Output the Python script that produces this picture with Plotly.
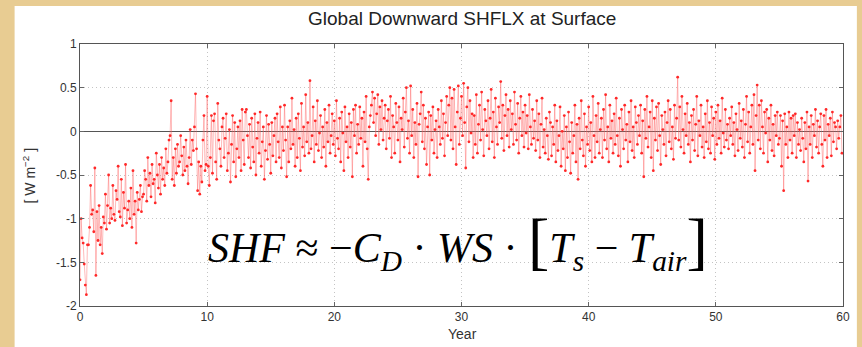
import plotly.graph_objects as go

TITLE = "Global Downward SHFLX at Surface"
X_TICKS = [0, 10, 20, 30, 40, 50, 60]
Y_TICKS = [1, 0.5, 0, -0.5, -1, -1.5, -2]
Y_TICK_LABELS = ["1", "0.5", "0", "-0.5", "-1", "-1.5", "-2"]

# monthly values, one row per model year
shflx_by_year = [
    [-1.70, -1.00, -1.22, -1.28, -1.52, -1.76, -1.87, -1.30, -1.30, -1.10, -0.62, -0.95],
    [-0.90, -1.15, -0.42, -1.65, -0.92, -1.25, -0.85, -1.30, -1.10, -1.40, -0.98, -1.05],
    [-0.72, -1.12, -0.85, -0.50, -1.05, -0.88, -1.00, -0.62, -0.95, -1.02, -0.68, -0.78],
    [-0.40, -0.92, -0.98, -0.55, -1.08, -0.70, -0.88, -0.38, -1.05, -0.90, -0.80, -1.00],
    [-0.65, -1.10, -0.45, -0.95, -0.80, -1.28, -0.70, -0.90, -0.78, -0.62, -0.92, -0.75],
    [-0.72, -0.45, -0.55, -0.80, -0.30, -0.62, -0.48, -0.75, -0.38, -0.60, -0.55, -0.82],
    [-0.25, -0.50, -0.65, -0.38, -0.72, -0.30, -0.55, -0.42, -0.62, -0.20, -0.48, -0.35],
    [-0.10, -0.05, 0.35, -0.55, -0.30, -0.62, -0.20, -0.48, -0.15, -0.40, -0.35, -0.05],
    [-0.28, -0.50, -0.18, -0.45, -0.10, -0.40, -0.60, -0.30, 0.02, -0.38, -0.10, -0.22],
    [0.05, 0.43, -0.20, -0.68, -0.35, -0.72, -0.40, -0.58, -0.10, 0.18, -0.45, -0.38],
    [0.40, -0.40, -0.62, -0.30, 0.18, -0.48, 0.12, 0.20, -0.35, -0.55, 0.32, -0.10],
    [-0.20, -0.40, 0.05, 0.15, -0.30, -0.08, 0.20, -0.45, -0.25, 0.02, -0.58, -0.15],
    [0.18, -0.35, 0.10, -0.52, -0.20, 0.05, -0.30, 0.12, -0.45, 0.25, -0.10, -0.38],
    [0.22, 0.25, -0.05, -0.30, 0.08, -0.42, 0.15, -0.18, -0.35, 0.20, -0.50, -0.08],
    [0.10, -0.25, 0.22, -0.40, -0.12, 0.05, -0.55, -0.22, 0.18, -0.32, 0.08, -0.15],
    [-0.48, 0.10, -0.28, -0.05, 0.15, -0.35, 0.20, -0.12, -0.30, 0.28, -0.42, 0.05],
    [-0.22, 0.30, -0.10, -0.52, 0.05, -0.35, 0.12, -0.20, 0.38, -0.15, 0.02, -0.40],
    [0.15, -0.30, 0.20, -0.08, -0.45, 0.32, -0.18, 0.05, -0.28, 0.42, -0.12, 0.10],
    [-0.25, 0.58, -0.20, -0.05, 0.28, -0.35, 0.12, -0.15, 0.35, -0.22, -0.02, 0.18],
    [-0.30, 0.05, -0.18, 0.25, -0.40, 0.10, -0.12, 0.30, -0.25, -0.05, 0.20, -0.15],
    [0.12, -0.28, 0.35, -0.08, -0.20, 0.15, -0.35, 0.22, -0.02, -0.45, 0.28, -0.12],
    [0.05, -0.30, 0.20, -0.18, 0.10, -0.52, 0.25, -0.05, 0.30, -0.25, 0.08, -0.15],
    [0.28, -0.08, 0.15, -0.40, 0.22, -0.12, 0.40, -0.20, -0.55, 0.05, 0.18, 0.30],
    [0.45, 0.10, 0.38, -0.05, 0.20, 0.42, -0.15, 0.28, 0.02, 0.35, -0.10, 0.15],
    [0.30, -0.20, 0.12, 0.25, -0.08, 0.40, -0.30, 0.18, 0.05, -0.25, 0.32, 0.10],
    [-0.10, 0.28, -0.35, 0.15, 0.02, 0.38, -0.18, 0.22, 0.50, -0.08, 0.12, -0.25],
    [0.52, -0.05, 0.25, -0.30, 0.10, -0.15, 0.32, -0.52, 0.08, 0.20, 0.45, -0.12],
    [0.30, -0.20, 0.15, -0.38, 0.05, 0.22, -0.50, 0.18, -0.10, 0.28, -0.25, 0.02],
    [0.12, -0.30, 0.25, 0.05, -0.15, 0.35, -0.08, 0.20, -0.28, 0.10, 0.40, -0.05],
    [0.30, 0.50, -0.10, 0.38, -0.20, 0.48, 0.05, -0.38, 0.22, 0.52, -0.15, 0.15],
    [0.40, -0.05, 0.55, 0.10, -0.42, 0.28, 0.50, -0.12, 0.35, -0.02, 0.20, -0.30],
    [0.18, -0.15, 0.42, -0.25, 0.08, 0.30, -0.10, 0.45, 0.02, -0.28, 0.25, 0.12],
    [-0.05, 0.35, -0.20, 0.15, 0.48, -0.12, 0.22, -0.30, 0.38, 0.05, -0.15, 0.28],
    [0.10, 0.57, -0.08, 0.30, -0.22, 0.18, 0.42, -0.05, 0.25, -0.18, 0.35, 0.02],
    [0.20, -0.15, 0.45, 0.08, -0.10, 0.32, -0.25, 0.15, 0.40, -0.05, 0.22, -0.18],
    [0.30, -0.02, 0.18, -0.20, 0.42, 0.05, -0.15, 0.25, -0.08, 0.12, -0.22, 0.35],
    [-0.10, 0.20, -0.30, 0.08, 0.38, -0.18, 0.02, -0.25, 0.15, -0.05, -0.32, 0.22],
    [0.10, -0.28, 0.05, -0.15, 0.30, -0.35, 0.12, -0.22, -0.05, 0.28, -0.40, 0.00],
    [-0.20, 0.18, -0.45, 0.05, -0.30, 0.22, -0.12, -0.48, 0.10, -0.25, -0.05, 0.30],
    [-0.35, 0.08, -0.55, 0.15, -0.20, 0.35, -0.10, -0.28, 0.20, -0.40, 0.05, -0.15],
    [0.28, -0.22, 0.10, -0.35, 0.40, -0.05, -0.30, 0.18, -0.12, 0.32, -0.25, 0.02],
    [0.15, -0.30, 0.25, -0.10, 0.42, -0.20, 0.05, -0.35, 0.30, -0.08, 0.12, -0.25],
    [0.20, -0.15, 0.38, -0.05, -0.28, 0.15, -0.40, 0.25, 0.02, -0.20, 0.30, -0.10],
    [0.08, -0.35, 0.22, -0.12, 0.35, -0.22, 0.05, -0.30, 0.28, 0.10, -0.15, 0.18],
    [-0.05, 0.30, -0.25, 0.12, -0.52, 0.25, -0.08, 0.40, -0.18, 0.05, 0.22, -0.30],
    [0.35, -0.45, 0.15, -0.10, 0.28, -0.22, 0.32, -0.05, -0.38, 0.18, 0.02, -0.15],
    [0.22, -0.28, 0.10, 0.35, -0.12, 0.25, -0.20, 0.05, -0.32, 0.30, -0.08, 0.15],
    [0.62, -0.10, 0.28, -0.18, 0.40, 0.02, -0.25, 0.20, -0.05, 0.32, -0.15, 0.10],
    [-0.35, 0.18, -0.10, 0.25, -0.22, 0.08, 0.40, -0.28, 0.12, -0.05, 0.30, -0.18],
    [0.05, -0.30, 0.20, -0.12, 0.35, -0.20, 0.10, -0.25, 0.28, -0.05, 0.15, -0.32],
    [0.22, -0.15, 0.30, -0.08, 0.12, -0.25, 0.38, -0.02, -0.18, 0.25, -0.10, 0.08],
    [-0.20, 0.15, -0.05, 0.28, -0.15, 0.10, -0.28, 0.20, 0.02, -0.22, 0.32, -0.08],
    [0.12, -0.18, 0.25, -0.30, 0.08, 0.40, -0.12, 0.22, -0.25, 0.05, 0.30, -0.15],
    [0.42, -0.45, 0.18, 0.53, -0.10, 0.30, -0.20, 0.35, 0.05, -0.25, 0.22, -0.02],
    [0.25, -0.35, 0.15, -0.10, 0.30, -0.22, 0.08, -0.28, 0.18, -0.05, 0.22, -0.15],
    [-0.08, 0.18, -0.40, 0.12, -0.68, 0.20, -0.15, 0.05, -0.30, 0.22, -0.10, 0.15],
    [-0.25, 0.18, -0.05, 0.20, -0.30, 0.10, -0.15, 0.02, -0.22, 0.15, -0.08, -0.35],
    [0.10, -0.20, 0.22, -0.57, 0.05, -0.15, 0.18, -0.30, 0.08, -0.05, 0.25, -0.18],
    [0.12, -0.25, 0.05, 0.20, -0.15, -0.40, 0.18, -0.10, 0.25, -0.30, 0.08, -0.05],
    [0.15, -0.28, 0.22, -0.12, 0.10, 0.05, -0.20, 0.12, -0.08, 0.05, 0.18, -0.25],
]

values = [v for row in shflx_by_year for v in row]
years = [i / 12 for i in range(len(values))]

W, H = 862, 347
L, R, T, B = 80, 12, 44, 41
pw, ph = W - L - R, H - T - B

def px(x):
    return (x - L) / pw

def py(y):
    return (H - B - y) / ph

fig = go.Figure()
fig.add_trace(go.Scatter(
    x=years, y=values, mode="lines+markers",
    line=dict(color="rgba(255,90,90,0.42)", width=1),
    marker=dict(color="rgb(255,40,40)", size=2.8),
    showlegend=False,
))

axis_common = dict(
    showline=True, linecolor="#555", linewidth=1, mirror="ticks",
    ticks="inside", ticklen=4, tickcolor="#666",
    showgrid=True, gridcolor="#c4c4c4", griddash="1px,3px", gridwidth=1,
    tickfont=dict(family="Liberation Sans, Arial", size=12, color="#333"),
)

fig.update_xaxes(range=[0, 60], tickvals=X_TICKS, ticktext=[str(t) for t in X_TICKS],
                 zeroline=False, **axis_common)
fig.update_yaxes(range=[-2, 1], tickvals=Y_TICKS, ticktext=Y_TICK_LABELS,
                 zeroline=True, zerolinecolor="#555", zerolinewidth=1, **axis_common)

fig.update_layout(
    width=W, height=H,
    margin=dict(l=L, r=R, t=T, b=B),
    paper_bgcolor="rgb(232,204,146)",
    plot_bgcolor="white",
    shapes=[dict(type="rect", xref="paper", yref="paper", layer="below",
                 x0=px(14), x1=px(W + 2), y0=py(H + 2), y1=py(6),
                 fillcolor="white", line=dict(width=0))],
    annotations=[
        dict(text=TITLE, xref="paper", yref="paper", x=px(465), y=py(19),
             showarrow=False, xanchor="center", yanchor="middle",
             font=dict(family="Liberation Sans, Arial", size=19, color="#222")),
        dict(text="Year", xref="paper", yref="paper", x=px(466), y=py(334),
             showarrow=False, xanchor="center", yanchor="middle",
             font=dict(family="Liberation Sans, Arial", size=14, color="#333")),
        dict(text="[ W m<sup>−2</sup> ]", xref="paper", yref="paper", x=px(29), y=py(175),
             showarrow=False, xanchor="center", yanchor="middle", textangle=-90,
             font=dict(family="Liberation Sans, Arial", size=14, color="#333")),
        dict(text=("<i>SHF</i> ≈ −<i>C</i><sub><i>D</i></sub> · <i>WS</i> · "
                   "<span style='font-size:64px;font-style:normal'>[</span>"
                   "<i>T</i><sub><i>s</i></sub> − <i>T</i><sub><i>air</i></sub>"
                   "<span style='font-size:64px;font-style:normal'>]</span>"),
             xref="paper", yref="paper", x=px(207), y=py(241),
             showarrow=False, xanchor="left", yanchor="middle",
             font=dict(family="Liberation Serif, Times New Roman, serif", size=42, color="black")),
    ],
)

fig.write_html("out.html", config={"displayModeBar": False},
               post_script="document.body.style.margin='0';document.body.style.background='rgb(232,204,146)';")
